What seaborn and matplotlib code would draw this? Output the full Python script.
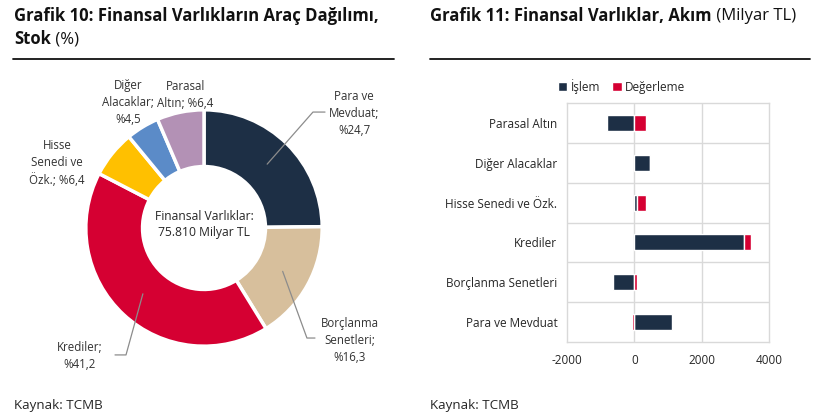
import numpy as np
import matplotlib
matplotlib.use("Agg")
import matplotlib.pyplot as plt
import seaborn as sns
import pandas as pd

# Grafik 10 data (stok, %)
pie_names = ["Para ve Mevduat", "Borçlanma Senetleri", "Krediler",
             "Hisse Senedi ve Özk.", "Diğer Alacaklar", "Parasal Altın"]
pie_shares = [24.7, 16.3, 41.2, 6.4, 4.5, 6.4]
pie_labels = ["Para ve\nMevduat;\n%24,7", "Borçlanma\nSenetleri;\n%16,3",
              "Krediler;\n%41,2", "Hisse\nSenedi ve\nÖzk.; %6,4",
              "Diğer\nAlacaklar;\n%4,5", "Parasal\nAltın; %6,4"]
pie_colors = ["#1d2f45", "#d7bf9c", "#d50032", "#ffc000", "#5b8bc8", "#b391b5"]

# Grafik 11 data (akım, milyar TL)
bar_cats = ["Parasal Altın", "Diğer Alacaklar", "Hisse Senedi ve Özk.",
            "Krediler", "Borçlanma Senetleri", "Para ve Mevduat"]
islem = [-820, 460, 70, 3245, -640, 1105]
degerleme = [340, 15, 285, 235, 70, -60]

sns.set_style("white")
plt.rcParams["font.family"] = ["Open Sans", "DejaVu Sans"]
plt.rcParams["axes.unicode_minus"] = False
txt = "#262626"

fig = plt.figure(figsize=(8.2, 4.18), dpi=100)

# background axes in pixel coords for titles, rules and sources
bg = fig.add_axes([0, 0, 1, 1])
bg.set_xlim(0, 820)
bg.set_ylim(418, 0)
bg.axis("off")

bg.text(14, 16, "Grafik 10: Finansal Varlıkların Araç Dağılımı,", fontsize=12,
        fontweight="bold", va="center", ha="left", color="#111111")
t = bg.text(14, 39, "Stok", fontsize=12, fontweight="bold", va="center",
            ha="left", color="#111111")
bg.annotate(" (%)", xy=(1, 0.5), xycoords=t, va="center", ha="left",
            fontsize=12, color="#111111")
t2 = bg.text(430, 16, "Grafik 11: Finansal Varlıklar, Akım", fontsize=12,
             fontweight="bold", va="center", ha="left", color="#111111")
bg.annotate(" (Milyar TL)", xy=(1, 0.5), xycoords=t2, va="center", ha="left",
            fontsize=12, color="#111111")
bg.plot([13, 394], [59, 59], color="#111111", lw=1.3)
bg.plot([430, 810], [59, 59], color="#111111", lw=1.3)
bg.text(14, 405, "Kaynak: TCMB", fontsize=9.6, va="center", color=txt)
bg.text(430, 405, "Kaynak: TCMB", fontsize=9.6, va="center", color=txt)

# donut
ax1 = fig.add_axes([74 / 820, 60 / 418, 260 / 820, 260 / 418])
wedges, _ = ax1.pie(pie_shares, colors=pie_colors, startangle=90, counterclock=False,
                    radius=1, wedgeprops=dict(width=0.48, edgecolor="white", linewidth=2.5))
ax1.set_xlim(-1.1, 1.1)
ax1.set_ylim(-1.1, 1.1)
ax1.set_aspect("equal")
ax1.axis("off")
ax1.text(0, 0.03, "Finansal Varlıklar:\n75.810 Milyar TL", ha="center", va="center",
         fontsize=8.7, color=txt, linespacing=1.35)

# label positions (data coords of the donut axes)
label_pos = [(1.27, 0.97), (1.235, -0.95), (-1.05, -1.085),
             (-1.245, 0.55), (-0.645, 1.06), (-0.16, 1.125)]
# leader lines: elbow and horizontal end, None = no leader
leaders = [((0.922, 0.981), (1.024, 0.981)), ((0.871, -0.931), (0.939, -0.931)),
           ((-0.660, -1.074), (-0.753, -1.074)), None, None, None]

for w, lab, pos, ld in zip(wedges, pie_labels, label_pos, leaders):
    ax1.text(pos[0], pos[1], lab, ha="center", va="center", fontsize=8.3,
             color="#333333", linespacing=1.38)
    if ld is not None:
        mid = np.deg2rad((w.theta1 + w.theta2) / 2)
        x0, y0 = 0.76 * np.cos(mid), 0.76 * np.sin(mid)
        ax1.plot([x0, ld[0][0], ld[1][0]], [y0, ld[0][1], ld[1][1]],
                 color="#8c8c8c", lw=0.9, clip_on=False)

# diverging stacked bars
ax2 = fig.add_axes([567 / 820, 76 / 418, 202 / 820, 239 / 418])
df = pd.DataFrame({"cat": bar_cats, "islem": islem, "degerleme": degerleme})
sns.barplot(data=df, y="cat", x="islem", color="#1d2f45", width=0.4, ax=ax2,
            saturation=1, orient="h", label="İşlem")
left = [i if np.sign(i) == np.sign(d) else 0 for i, d in zip(islem, degerleme)]
ax2.barh(np.arange(len(bar_cats)), degerleme, left=left, height=0.4,
         color="#d50032", label="Değerleme")
ax2.set_xlim(-2000, 4000)
ax2.set_ylim(len(bar_cats) - 0.5, -0.5)
ax2.set_xticks([-2000, 0, 2000, 4000])
ax2.set_yticks(np.arange(len(bar_cats)), bar_cats)
ax2.set_xlabel("")
ax2.set_ylabel("")
ax2.tick_params(length=0, labelsize=8.5, colors=txt, pad=7)
ax2.tick_params(axis="x", pad=9)
for x in [0, 2000]:
    ax2.axvline(x, color="#d9d9d9", lw=1, zorder=0)
for y in np.arange(0.5, len(bar_cats) - 0.5):
    ax2.axhline(y, color="#d9d9d9", lw=1, zorder=0)
for s in ax2.spines.values():
    s.set_visible(True)
    s.set_color("#d9d9d9")
    s.set_linewidth(1)
ax2.legend(loc="center", bbox_to_anchor=(0.27, 1.07), ncol=2, frameon=False,
           fontsize=8.5, handlelength=0.8, handleheight=0.8, handletextpad=0.3,
           columnspacing=1.0, labelcolor=txt)

fig.savefig("out.png", dpi=100)
